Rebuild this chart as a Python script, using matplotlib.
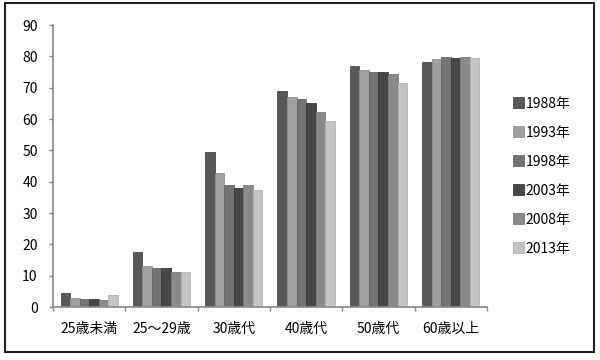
import numpy as np
import matplotlib.pyplot as plt
from matplotlib.patches import Rectangle

plt.rcParams['font.family'] = ['Noto Sans CJK JP', 'DejaVu Sans']

categories = ['25歳未満', '25〜29歳', '30歳代', '40歳代', '50歳代', '60歳以上']
years = ['1988年', '1993年', '1998年', '2003年', '2008年', '2013年']
values = {
    '1988年': [4.5, 17.7, 49.4, 69.0, 76.8, 78.1],
    '1993年': [2.9, 13.0, 42.7, 67.1, 75.5, 79.3],
    '1998年': [2.6, 12.5, 38.8, 66.5, 75.0, 79.9],
    '2003年': [2.6, 12.5, 37.9, 65.0, 75.0, 79.6],
    '2008年': [2.1, 11.3, 38.8, 62.1, 74.3, 79.9],
    '2013年': [3.8, 11.3, 37.3, 59.5, 71.6, 79.6],
}
colors = ['#585858', '#a0a0a0', '#747474', '#474747', '#8a8a8a', '#c4c4c4']
edges = ['#4a4a4a', '#909090', '#666666', '#3a3a3a', '#7a7a7a', '#b4b4b4']

fig = plt.figure(figsize=(6, 3.6), dpi=100)
ax = fig.add_axes([0.0883, 0.1472, 0.7233, 0.7833])

x = np.arange(len(categories))
w = 0.132
for i, yr in enumerate(years):
    ax.bar(x + (i - 2.5) * w, values[yr], width=w, color=colors[i],
           edgecolor=edges[i], linewidth=0.6, label=yr)

ax.set_xlim(-0.5, len(categories) - 0.5)
ax.set_ylim(0, 90)
ax.set_yticks(range(0, 91, 10))
ax.set_xticks(x)
ax.set_xticklabels(categories)
ax.set_xticks(np.arange(-0.5, len(categories)), minor=True)
ax.tick_params(axis='x', which='major', length=0, pad=11, labelsize=10)
ax.tick_params(axis='x', which='minor', length=3, width=1, color='#888888', direction='out')
ax.tick_params(axis='y', length=3, width=1, color='#888888', pad=8, labelsize=10)

for s in ['top', 'right']:
    ax.spines[s].set_visible(False)
for s in ['left', 'bottom']:
    ax.spines[s].set_color('#888888')
    ax.spines[s].set_linewidth(1.2)

ax.legend(loc='upper left', bbox_to_anchor=(0.845, 0.747), bbox_transform=fig.transFigure,
          frameon=False, fontsize=10, handlelength=0.8, handleheight=0.8,
          handletextpad=0.15, labelspacing=1.08, borderaxespad=0)

fig.patches.append(Rectangle((4.5 / 600, 1 - 352 / 360), 589 / 600, 349 / 360,
                             transform=fig.transFigure, fill=False,
                             edgecolor='#222222', linewidth=1.5))

fig.savefig('out.png', dpi=100)
